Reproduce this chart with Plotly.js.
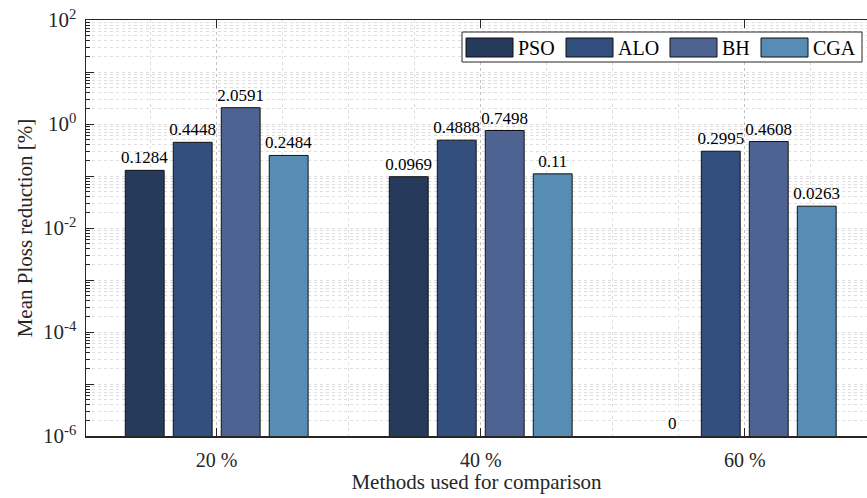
<!DOCTYPE html>
<html>
<head>
<meta charset="utf-8">
<script src="https://cdn.plot.ly/plotly-3.0.1.min.js"></script>
<style>html,body{margin:0;padding:0;background:#fff;}#chart{width:867px;height:498px;}</style>
</head>
<body>
<div id="chart"></div>
<script>
// ---- data ----
var categories = ["20 %", "40 %", "60 %"];
var seriesNames = ["PSO", "ALO", "BH", "CGA"];
var PSO = [0.1284, 0.0969, 0];
var ALO = [0.4448, 0.4888, 0.2995];
var BH  = [2.0591, 0.7498, 0.4608];
var CGA = [0.2484, 0.11, 0.0263];
var seriesValues = [PSO, ALO, BH, CGA];
var colors = ["#263a5c", "#324f7d", "#4e6391", "#578db5"];
var yTickExp = [-6, -5, -4, -3, -2, -1, 0, 1, 2];

var FONT = "Times New Roman, Liberation Serif, serif";
var AX = "#262626";
var GRID = "rgba(0,0,0,0.13)";
var W = 867, H = 498;
var M = {l: 86, r: 0, t: 20, b: 62};
var bargap = 0.273, bargroupgap = 0.19;

var xpos = categories.map(function (c, i) { return i + 1; });

var traces = seriesNames.map(function (name, k) {
  return {
    type: "bar",
    name: name,
    x: xpos,
    y: seriesValues[k],
    text: seriesValues[k].map(String),
    textposition: "outside",
    constraintext: "none",
    cliponaxis: false,
    textfont: {family: FONT, size: 17, color: "#000"},
    marker: {color: colors[k], line: {color: "#111", width: 1}},
    showlegend: false
  };
});

// y ticks
var tickvals = yTickExp.map(function (e) { return Math.pow(10, e); });
var ticktext = yTickExp.map(function (e) { return e % 2 === 0 ? "10<sup>" + e + "</sup>" : " "; });
var minorVals = [];
for (var e = -6; e < 2; e++) for (var d = 2; d <= 9; d++) minorVals.push(d * Math.pow(10, e));

// annotations for zero values (not drawable on log axis)
var annotations = [];
var slot = (1 - bargap) / seriesNames.length;
seriesValues.forEach(function (vals, k) {
  vals.forEach(function (v, i) {
    if (v === 0) {
      annotations.push({
        x: xpos[i] + (k - (seriesNames.length - 1) / 2) * slot,
        y: -6, xref: "x", yref: "y", text: "0", showarrow: false,
        yanchor: "bottom", yshift: 1,
        font: {family: FONT, size: 17, color: "#000"}
      });
    }
  });
});

// manual legend (pixel -> paper)
var pw = W - M.l - M.r, ph = H - M.t - M.b;
function px(x) { return (x - M.l) / pw; }
function py(y) { return (H - M.b - y) / ph; }
var shapes = [{
  type: "rect", xref: "paper", yref: "paper", layer: "above",
  x0: px(462), x1: px(862), y0: py(62), y1: py(32),
  fillcolor: "#fff", line: {color: AX, width: 1}
}];
var swX = [466, 566, 670, 761];
seriesNames.forEach(function (name, k) {
  shapes.push({
    type: "rect", xref: "paper", yref: "paper", layer: "above",
    x0: px(swX[k]), x1: px(swX[k] + 47), y0: py(57), y1: py(38),
    fillcolor: colors[k], line: {color: "#111", width: 1}
  });
  annotations.push({
    xref: "paper", yref: "paper", x: px(swX[k] + 50), y: py(47.5),
    xanchor: "left", yanchor: "middle", showarrow: false, text: name,
    font: {family: FONT, size: 20, color: "#000"}
  });
});

var layout = {
  width: W, height: H,
  margin: M,
  paper_bgcolor: "#fff", plot_bgcolor: "#fff",
  barmode: "group", bargap: bargap, bargroupgap: bargroupgap,
  font: {family: FONT, color: AX},
  xaxis: {
    range: [0.505, 3.463],
    tickmode: "array", tickvals: xpos, ticktext: categories,
    ticks: "inside", ticklen: 8, tickwidth: 1, tickcolor: AX,
    showline: true, linecolor: AX, linewidth: 1.5, mirror: "ticks",
    showgrid: true, gridcolor: GRID, griddash: "dot", gridwidth: 1,
    minor: {dtick: 0.25, tick0: 0.5, showgrid: true, gridcolor: GRID, griddash: "dot", ticks: ""},
    tickfont: {family: FONT, size: 20, color: AX},
    ticklabelstandoff: 5,
    zeroline: false, automargin: false,
    title: {text: "Methods used for comparison", font: {family: FONT, size: 21, color: AX}, standoff: 2}
  },
  yaxis: {
    type: "log", range: [-6, 2],
    tickmode: "array", tickvals: tickvals, ticktext: ticktext,
    ticks: "inside", ticklen: 8, tickwidth: 1, tickcolor: AX,
    showline: true, linecolor: AX, linewidth: 1.5, mirror: false,
    showgrid: true, gridcolor: GRID, griddash: "dot", gridwidth: 1,
    minor: {tickmode: "array", tickvals: minorVals, ticks: "inside", ticklen: 4, tickcolor: AX,
            showgrid: true, gridcolor: GRID, griddash: "dot"},
    tickfont: {family: FONT, size: 21, color: AX},
    ticklabelstandoff: 4,
    zeroline: false, automargin: false,
    title: {text: "Mean Ploss reduction [%]", font: {family: FONT, size: 21, color: AX}, standoff: 4}
  },
  annotations: annotations,
  shapes: shapes
};

Plotly.newPlot("chart", traces, layout, {staticPlot: true, displayModeBar: false});
</script>
</body>
</html>
